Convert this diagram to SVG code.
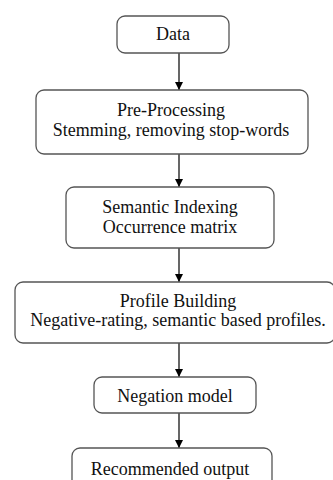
<svg xmlns="http://www.w3.org/2000/svg" width="333" height="480" viewBox="0 0 333 480">
<defs>
<marker id="ah" viewBox="0 0 10 10" refX="10" refY="5" markerWidth="8" markerHeight="10" markerUnits="userSpaceOnUse" orient="auto">
<path d="M0,0 L10,5 L0,10 z" fill="#000"/>
</marker>
</defs>
<style>
.box{fill:#fff;stroke:#555;stroke-width:1.3}
.t{font-family:"Liberation Serif","Times New Roman",serif;font-size:18px;fill:#111;text-anchor:middle}
.c{stroke:#000;stroke-width:1.2;fill:none}
</style>
<rect width="333" height="480" fill="#fff"/>
<g id="connectors">
<line class="c" x1="179" y1="53" x2="179" y2="90" marker-end="url(#ah)"/>
<line class="c" x1="179" y1="154" x2="179" y2="187" marker-end="url(#ah)"/>
<line class="c" x1="179" y1="248" x2="179" y2="282" marker-end="url(#ah)"/>
<line class="c" x1="179" y1="343" x2="179" y2="377" marker-end="url(#ah)"/>
<line class="c" x1="179" y1="413" x2="179" y2="448" marker-end="url(#ah)"/>
</g>
<g id="data">
<rect class="box" x="117" y="16" width="112" height="37" rx="8"/>
<text class="t" x="173" y="40">Data</text>
</g>
<g id="preprocessing">
<rect class="box" x="36" y="90" width="272" height="64" rx="8"/>
<text class="t" x="171" y="116">Pre-Processing</text>
<text class="t" x="171" y="136">Stemming, removing stop-words</text>
</g>
<g id="semantic">
<rect class="box" x="66" y="187" width="208" height="61" rx="8"/>
<text class="t" x="170" y="213">Semantic Indexing</text>
<text class="t" x="170" y="233">Occurrence matrix</text>
</g>
<g id="profile">
<rect class="box" x="15" y="282" width="320" height="61" rx="8"/>
<text class="t" x="178" y="307">Profile Building</text>
<text class="t" x="178" y="326">Negative-rating, semantic based profiles.</text>
</g>
<g id="negation">
<rect class="box" x="94" y="377" width="162" height="36" rx="8"/>
<text class="t" x="175" y="402">Negation model</text>
</g>
<g id="output">
<rect class="box" x="72" y="448" width="200" height="40" rx="8"/>
<text class="t" x="170" y="475">Recommended output</text>
</g>
</svg>
